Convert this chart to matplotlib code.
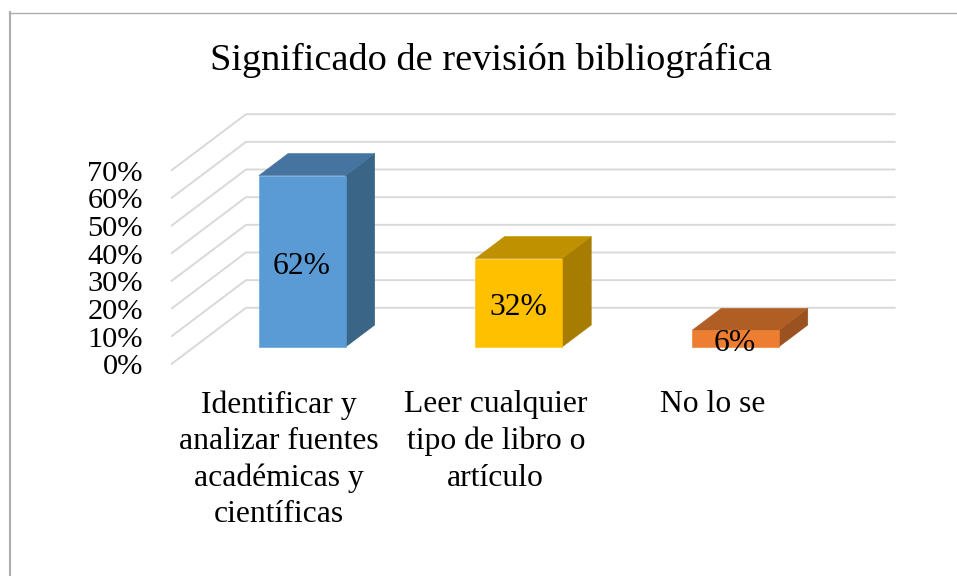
import matplotlib
matplotlib.use("Agg")
import matplotlib.pyplot as plt
from matplotlib.patches import Polygon
from matplotlib.lines import Line2D

plt.rcParams['font.family'] = ['Liberation Serif', 'DejaVu Serif']

title = "Significado de revisión bibliográfica"
categories = ["Identificar y\nanalizar fuentes\nacadémicas y\ncientíficas",
              "Leer cualquier\ntipo de libro o\nartículo",
              "No lo se"]
values = [62, 32, 6]
value_labels = ["62%", "32%", "6%"]
y_ticks = [0, 10, 20, 30, 40, 50, 60, 70]
y_tick_labels = ["0%", "10%", "20%", "30%", "40%", "50%", "60%", "70%"]
front_colors = ["#5B9BD5", "#FFC000", "#ED7D31"]
top_colors = ["#44749F", "#BF9000", "#B15E25"]
side_colors = ["#3A6586", "#A67D00", "#9A5220"]

W, H = 957, 576
FS = 22.8
fig = plt.figure(figsize=(W / 100, H / 100), dpi=100, facecolor="white")
ax = fig.add_axes([171 / W, (H - 364.3) / H, 649.6 / W, 193.6 / H])
ax.set_xlim(0, 3)
ax.set_ylim(0, 70)
ax.patch.set_visible(False)
for s in ax.spines.values():
    s.set_visible(False)

# oblique projection: depth 0 = front plane, depth 1 = back wall
DX = 0.3464   # category units per full depth
DY = 20.43    # value units per full depth
def proj(x, v, d):
    return (x + d * DX, v + d * DY)

D0, D1 = 0.306, 0.695
BAR_W = 0.4

# grid
for v in y_ticks:
    xs, ys = zip(proj(0, v, 0), proj(0, v, 1), proj(3, v, 1))
    ax.plot(xs, ys, color="#D9D9D9", lw=1.4, clip_on=False, zorder=1,
            solid_capstyle="butt", solid_joinstyle="miter")

# bars
for i, v in enumerate(values):
    x0, x1 = i + 0.5 - BAR_W / 2, i + 0.5 + BAR_W / 2
    front = [proj(x0, 0, D0), proj(x1, 0, D0), proj(x1, v, D0), proj(x0, v, D0)]
    top = [proj(x0, v, D0), proj(x1, v, D0), proj(x1, v, D1), proj(x0, v, D1)]
    side = [proj(x1, 0, D0), proj(x1, 0, D1), proj(x1, v, D1), proj(x1, v, D0)]
    for pts, c in ((side, side_colors[i]), (top, top_colors[i]), (front, front_colors[i])):
        ax.add_patch(Polygon(pts, closed=True, facecolor=c, edgecolor=c, lw=0.4,
                             clip_on=False, zorder=3))
    lx, ly = proj(i + 0.5, v / 2, D0)
    ax.annotate(value_labels[i], (lx, ly), xytext=(-0.5, -3.5), textcoords="offset points",
                ha="center", va="center", fontsize=FS, color="black", zorder=4,
                annotation_clip=False)

ax.set_yticks(y_ticks, y_tick_labels, fontsize=21.9)
ax.set_xticks([i + 0.5 for i in range(len(categories))], categories, fontsize=FS,
              linespacing=1.33, ha="center", va="top")
ax.tick_params(axis="y", length=0, pad=20.3)
ax.tick_params(axis="x", length=0, pad=18.8)

fig.text(490.5 / W, (H - 60) / H, title, ha="center", va="center", fontsize=27.6, color="black")

# chart frame, cut by the image on the right and at the bottom
fig.add_artist(Line2D([9.0 / W, 1], [(H - 12.7) / H] * 2, color="#ADADAD", lw=1.0))
fig.add_artist(Line2D([10 / W, 10 / W], [0, (H - 12) / H], color="#ADADAD", lw=1.5))

fig.savefig("out.png", dpi=100, facecolor="white")
